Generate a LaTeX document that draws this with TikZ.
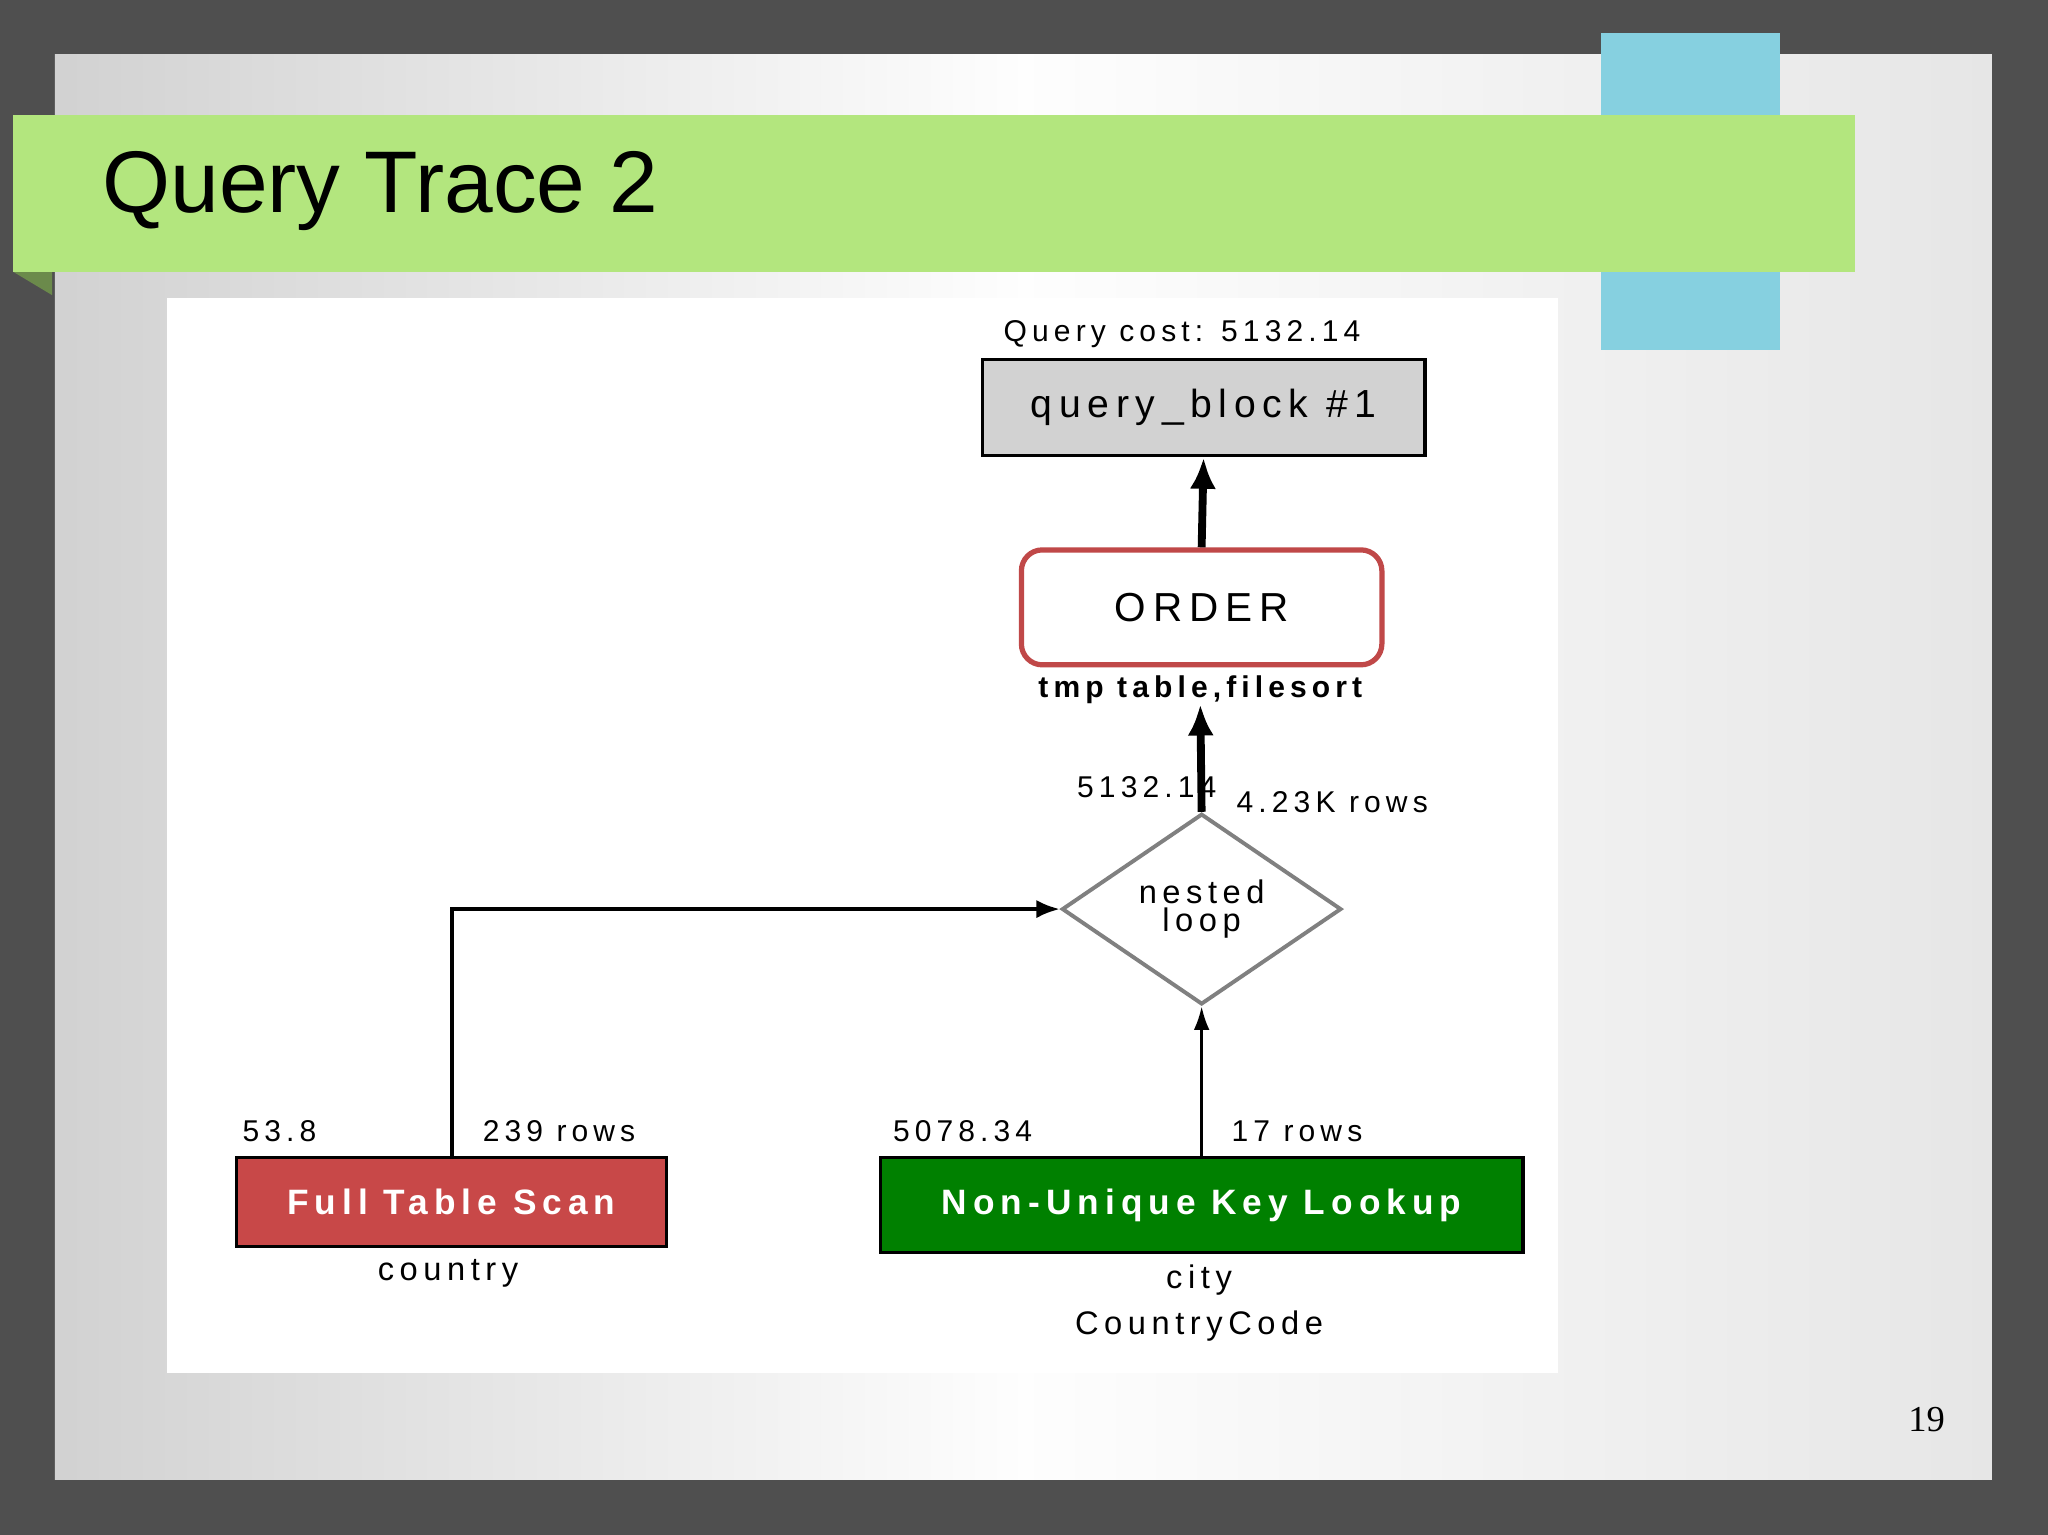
\documentclass[tikz,border=0pt]{standalone}
\usepackage{fontspec}
\setmainfont{Liberation Sans}
\newfontfamily\serifpg{Liberation Serif}
\newfontfamily\wide[LetterSpace=17]{Liberation Sans}
\usetikzlibrary{shapes.geometric,arrows.meta}
\definecolor{frame}{HTML}{4F4F4F}
\definecolor{slide}{HTML}{E6E6E6}
\definecolor{banner}{HTML}{B3E67E}
\definecolor{tab}{HTML}{86D0E0}
\definecolor{ftscol}{HTML}{C84848}
\definecolor{nukcol}{HTML}{008000}
\definecolor{ordred}{HTML}{C04848}
\tikzset{
  lbl/.style={font=\wide\fontsize{11.5}{12}\selectfont, inner sep=0pt},
  boxtxt/.style={font=\wide\fontsize{13.5}{15}\selectfont\bfseries, text=white},
  conn/.style={-{Latex[length=9pt,width=7pt]}, line width=1.5pt},
}
\begin{document}
\begin{tikzpicture}[x=0.5pt,y=-0.5pt]
\useasboundingbox (0,0) rectangle (1568,1175);
\fill[frame] (0,0) rectangle (1568,1175);
\shade[left color=slide!80!gray, right color=slide, middle color=white!95!slide] (42,42) rectangle (1525,1133);
\fill[tab] (1226,25) rectangle (1363,268);
\fill[banner!60!black] (10,208) -- (40,208) -- (40,226) -- cycle;
\fill[banner] (10,88) rectangle (1420,208);
\node[anchor=west, font=\fontsize{33.5}{36}\selectfont, inner sep=0pt] (title) at (78,146) {Query Trace 2};
\fill[white] (128,228) rectangle (1193,1051);
\node[font=\serifpg\fontsize{14}{16}\selectfont, inner sep=0pt] (pg) at (1475,1087) {19};

% nodes
\node[draw, line width=1.2pt, fill=gray!35, minimum width=169.5pt, minimum height=37pt, font=\wide\fontsize{15}{17}\selectfont] (qb) at (921.5,312) {query\_block \#1};
\node[lbl] (qc) at (905,256) {Query cost: 5132.14};
\node[draw=ordred, line width=2pt, rounded corners=8pt, minimum width=138pt, minimum height=44pt, font=\wide\fontsize{15.5}{17}\selectfont] (ord) at (920,465) {ORDER};
\node[lbl, font=\wide\fontsize{11.5}{12}\selectfont\bfseries] (tmp) at (919,528) {tmp table,filesort};
\node[draw=gray, line width=1.5pt, diamond, minimum width=107pt, minimum height=73pt, inner sep=0pt, align=center, font=\wide\fontsize{12.5}{11}\selectfont] (nl) at (920,696) {nested\\loop};
\node[lbl] (c1) at (878,603) {5132.14};
\node[lbl] (r1) at (1020,614) {4.23K rows};

\node[draw, line width=1.2pt, fill=ftscol, minimum width=164.5pt, minimum height=34pt, boxtxt] (fts) at (345.5,920) {Full Table Scan};
\node[lbl] (c2) at (214,866) {53.8};
\node[lbl] (r2) at (428,866) {239 rows};
\node[lbl, font=\wide\fontsize{12.5}{13}\selectfont] (t2) at (343,975) {country};

\node[draw, line width=1.2pt, fill=nukcol, minimum width=246pt, minimum height=36.5pt, boxtxt] (nuk) at (920,922.5) {Non-Unique Key Lookup};
\node[lbl] (c3) at (737,866) {5078.34};
\node[lbl] (r3) at (993,866) {17 rows};
\node[lbl, font=\wide\fontsize{12.5}{13}\selectfont] (t3) at (918,980) {city};
\node[lbl, font=\wide\fontsize{12.5}{13}\selectfont] (k3) at (918,1015) {CountryCode};

% connectors
\draw[conn, line width=3pt, -{Latex[length=12pt,width=10pt]}] (ord.north) -- (qb.south);
\draw[conn, line width=3pt, -{Latex[length=12pt,width=10pt]}] (nl.north) -- (tmp.south);
\draw[conn] (fts.north -| 346,0) |- (nl.west);
\draw[-{Latex[length=9pt,width=6pt]}, line width=1pt] (nuk.north) -- (nl.south);
\end{tikzpicture}
\end{document}
